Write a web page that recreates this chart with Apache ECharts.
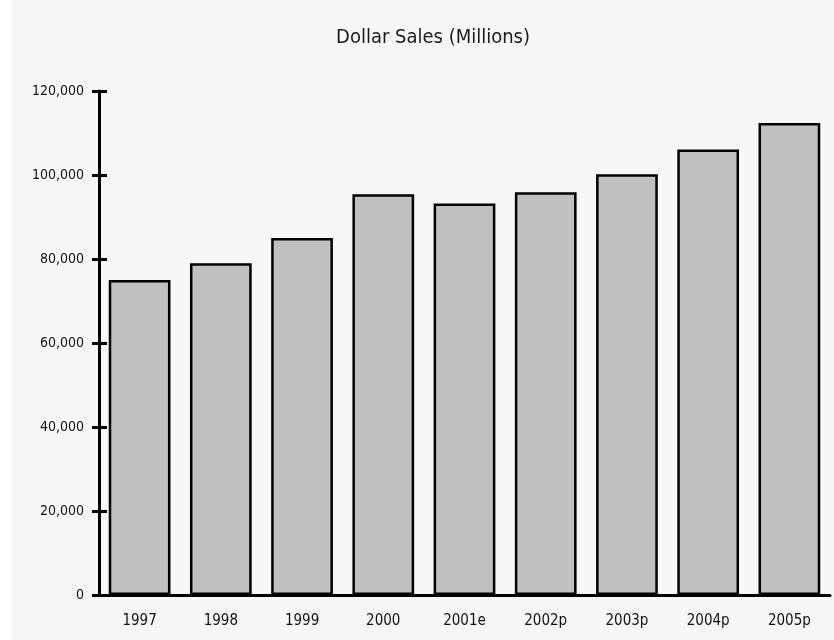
<!DOCTYPE html>
<html><head><meta charset="utf-8">
<script src="https://cdn.jsdelivr.net/npm/echarts@6/dist/echarts.min.js"></script>
<style>html,body{margin:0;padding:0;background:#fff}#c{width:834px;height:640px}</style>
</head><body><div id="c"></div>
<script>
const categories = ['1997','1998','1999','2000','2001e','2002p','2003p','2004p','2005p'];
const sales = [75000, 79000, 85000, 95400, 93200, 95900, 100200, 106100, 112400];
const yTicks = [0, 20000, 40000, 60000, 80000, 100000, 120000];

const font = "'Liberation Sans Narrow', 'Arial Narrow', 'DejaVu Sans Condensed', sans-serif";
const chart = echarts.init(document.getElementById('c'), null, {renderer: 'canvas'});
const yBase = {
  type: 'value', min: yTicks[0], max: yTicks[yTicks.length - 1], interval: yTicks[1] - yTicks[0],
  splitLine: {show: false}
};
chart.setOption({
  backgroundColor: '#f7f7f7',
  animation: false,
  graphic: [{type: 'rect', shape: {x: 0, y: 0, width: 12, height: 640}, style: {fill: '#ffffff'}, z: -1}],
  title: {
    text: 'Dollar Sales (Millions)', left: 428, top: 23, textAlign: 'center',
    textStyle: {fontFamily: font, fontSize: 20, fontWeight: 'normal', color: '#1a1a1a'}
  },
  grid: {left: 99, right: 4, top: 91, bottom: 45, containLabel: false},
  xAxis: {
    type: 'category', data: categories,
    axisLine: {lineStyle: {color: '#000', width: 3}},
    axisTick: {show: false},
    axisLabel: {fontFamily: font, fontSize: 15, color: '#111', margin: 19}
  },
  yAxis: [
    Object.assign({}, yBase, {
      axisLine: {show: true, lineStyle: {color: '#000', width: 3}},
      axisTick: {show: true, inside: false, length: 7, lineStyle: {color: '#000', width: 3}},
      axisLabel: {fontFamily: font, fontSize: 14, color: '#111', margin: 15,
        formatter: v => v.toLocaleString('en-US')}
    }),
    Object.assign({}, yBase, {
      position: 'left',
      axisLine: {show: false},
      axisTick: {show: true, inside: true, length: 8, lineStyle: {color: '#000', width: 3}},
      axisLabel: {show: false}
    })
  ],
  series: [{
    type: 'bar', data: sales, barWidth: '76%',
    itemStyle: {color: '#c0c0c0', borderColor: '#000', borderWidth: 2.5}
  }]
});
</script></body></html>
